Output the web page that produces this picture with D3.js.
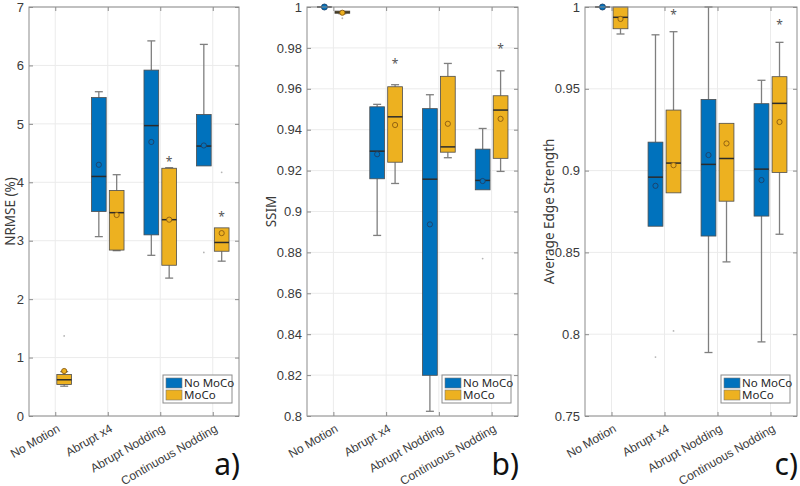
<!DOCTYPE html>
<html>
<head>
<meta charset="utf-8">
<script src="https://cdn.jsdelivr.net/npm/d3@7"></script>
<style>
	body	{ margin:0; background:#fff; }
	svg	{ display:block; font-family:"Noto Sans", "Open Sans", sans-serif; }
</style>
</head>
<body>
<svg id="chart" width="800" height="486"></svg>
<script>
// box stats: [whiskerLow, q1, median, q3, whiskerHigh, mean]
var categories	= ['No Motion', 'Abrupt x4', 'Abrupt Nodding', 'Continuous Nodding'];
var seriesNames	= ['No MoCo', 'MoCo'];
var seriesColors	= ['#0072bd', '#edb120'];

var nrmseNoMoCo	= [null, [3.07,3.50,4.10,5.45,5.55,4.30], [2.75,3.10,4.97,5.92,6.42,4.69], [4.28,4.28,4.62,5.16,6.36,4.63]];
var nrmseMoCo	= [[0.51,0.54,0.62,0.71,0.76,0.77], [2.83,2.84,3.48,3.86,4.13,3.44], [2.36,2.58,3.36,4.24,4.25,3.36], [2.65,2.82,2.97,3.22,3.22,3.13]];
var nrmseOutliers	= [[0,1,1.37], [3,0,2.80], [3,1,4.17]];	// [category, series, value]
var nrmseStars	= [[2,1,4.36], [3,1,3.43]];
var nrmseTicks	= [0,1,2,3,4,5,6,7];

var ssimNoMoCo	= [[1,1,1,1,1,1], [0.8883,0.916,0.9295,0.9512,0.9524,0.928], [0.8023,0.8199,0.9158,0.9503,0.9571,0.8937], [0.9106,0.9106,0.9152,0.9305,0.9406,0.9149]];
var ssimMoCo	= [[0.9967,0.9969,0.9975,0.998,0.998,0.9972], [0.9137,0.9241,0.9463,0.961,0.962,0.9423], [0.9263,0.929,0.9316,0.9661,0.9724,0.9429], [0.9196,0.926,0.9496,0.9566,0.9688,0.9453]];
var ssimOutliers	= [[0,1,0.9945], [3,0,0.877]];
var ssimStars	= [[1,1,0.9727], [3,1,0.9798]];
var ssimTicks	= [0.8,0.82,0.84,0.86,0.88,0.9,0.92,0.94,0.96,0.98,1];

var edgeNoMoCo	= [[1,1,1,1,1,1], [0.866,0.866,0.896,0.9174,0.983,0.8907], [0.7888,0.86,0.9038,0.9435,1.0,0.9095], [0.7953,0.8722,0.9009,0.9409,0.9552,0.8942]];
var edgeMoCo	= [[0.9835,0.9867,0.9937,1.0,1.0,0.9927], [0.8864,0.8864,0.9046,0.937,0.9849,0.9033], [0.8442,0.8813,0.9074,0.9289,0.9289,0.9166], [0.8611,0.8989,0.9411,0.9574,0.9784,0.9297]];
var edgeOutliers	= [[1,0,0.786], [1,1,0.802]];
var edgeStars	= [[1,1,0.996], [3,1,0.9894]];
var edgeTicks	= [0.75,0.8,0.85,0.9,0.95,1];

var svg = d3.select('#chart');
var decFmt = function(d){ return d==1 ? '1' : d3.format('.2f')(d).replace(/0$/,''); };

function panel(opt) {
	var g = svg.append('g');
	var x = d3.scaleLinear().domain([0.5, 4.5]).range([opt.left, opt.right]);
	var y = d3.scaleLinear().domain(opt.domain).range([opt.bottom, opt.top]);
	var off = 0.17, hw = 0.14;

	// grid
	g.append('g').selectAll('line').data(opt.ticks).enter().append('line')
		.attr('x1', opt.left).attr('x2', opt.right)
		.attr('y1', function(d){return y(d)}).attr('y2', function(d){return y(d)})
		.attr('stroke', '#ebebeb');
	g.append('g').selectAll('line').data(categories).enter().append('line')
		.attr('x1', function(d,i){return x(i+1)}).attr('x2', function(d,i){return x(i+1)})
		.attr('y1', opt.top).attr('y2', opt.bottom)
		.attr('stroke', '#ebebeb');

	// axes
	var yl = g.append('g').attr('transform', 'translate('+opt.left+',0)')
		.call(d3.axisLeft(y).tickValues(opt.ticks).tickFormat(opt.fmt).tickSizeInner(-4).tickSizeOuter(0).tickPadding(5));
	yl.select('.domain').remove();
	yl.selectAll('.tick line').attr('stroke', '#8c8c8c');
	yl.selectAll('.tick text').attr('fill', '#3a3a3a').style('font-size', '13px');
	var yr = g.append('g').attr('transform', 'translate('+opt.right+',0)')
		.call(d3.axisRight(y).tickValues(opt.ticks).tickFormat('').tickSizeInner(-4).tickSizeOuter(0));
	yr.select('.domain').remove();
	yr.selectAll('.tick line').attr('stroke', '#8c8c8c');
	var xb = g.append('g').attr('transform', 'translate(0,'+opt.bottom+')')
		.call(d3.axisBottom(x).tickValues([1,2,3,4]).tickFormat(function(d){return categories[d-1]}).tickSizeInner(-4).tickSizeOuter(0));
	xb.select('.domain').remove();
	xb.selectAll('.tick line').attr('stroke', '#8c8c8c');
	xb.selectAll('.tick text').attr('fill', '#3a3a3a').style('font-size', '12px')
		.attr('text-anchor', 'end').attr('x', 0).attr('y', 0).attr('dy', 0)
		.attr('transform', 'translate(5,15) rotate(-30)');
	var xt = g.append('g').attr('transform', 'translate(0,'+opt.top+')')
		.call(d3.axisTop(x).tickValues([1,2,3,4]).tickFormat('').tickSizeInner(-4).tickSizeOuter(0));
	xt.select('.domain').remove();
	xt.selectAll('.tick line').attr('stroke', '#8c8c8c');

	// boxes
	[opt.noMoCo, opt.moCo].forEach(function(series, s) {
		var dx = s == 0 ? -off : off;
		var bg = g.append('g').attr('class', 'series-'+s);
		series.forEach(function(b, i) {
			if (!b) return;
			var cx = i + 1 + dx, cap = 4;
			var w = bg.append('g');
			if (b[4] > b[3]) {
				w.append('line').attr('x1', x(cx)).attr('x2', x(cx)).attr('y1', y(b[4])).attr('y2', y(b[3])).attr('stroke', '#7f7f7f').attr('stroke-width', 1.3);
				w.append('line').attr('x1', x(cx)-cap).attr('x2', x(cx)+cap).attr('y1', y(b[4])).attr('y2', y(b[4])).attr('stroke', '#7f7f7f').attr('stroke-width', 1.3);
			}
			if (b[0] < b[1]) {
				w.append('line').attr('x1', x(cx)).attr('x2', x(cx)).attr('y1', y(b[1])).attr('y2', y(b[0])).attr('stroke', '#7f7f7f').attr('stroke-width', 1.3);
				w.append('line').attr('x1', x(cx)-cap).attr('x2', x(cx)+cap).attr('y1', y(b[0])).attr('y2', y(b[0])).attr('stroke', '#7f7f7f').attr('stroke-width', 1.3);
			}
			w.append('rect')
				.attr('x', x(cx-hw)).attr('width', x(cx+hw)-x(cx-hw))
				.attr('y', y(b[3])).attr('height', Math.max(0, y(b[1])-y(b[3])))
				.attr('fill', seriesColors[s]).attr('stroke', '#4d4d4d').attr('stroke-width', 0.8);
			w.append('line').attr('x1', x(cx-hw)).attr('x2', x(cx+hw)).attr('y1', y(b[2])).attr('y2', y(b[2]))
				.attr('stroke', '#2b2b2b').attr('stroke-width', 1.5);
			w.append('circle').attr('cx', x(cx)).attr('cy', y(b[5])).attr('r', b[1]==b[3] ? 3 : 2.6)
				.attr('fill', seriesColors[s]).attr('stroke', s==0 ? '#1d3f66' : '#8a5a10').attr('stroke-width', 0.9);
		});
	});

	// outliers and stars
	g.append('g').selectAll('circle').data(opt.outliers).enter().append('circle')
		.attr('cx', function(d){return x(d[0]+1+(d[1]==0?-off:off))}).attr('cy', function(d){return y(d[2])})
		.attr('r', 0.9).attr('fill', '#b5b5b5');
	g.append('g').selectAll('text').data(opt.stars).enter().append('text')
		.attr('x', function(d){return x(d[0]+1+(d[1]==0?-off:off))}).attr('y', function(d){return y(d[2])+5})
		.attr('text-anchor', 'middle').attr('fill', '#555').style('font-size', '12px').text('*');

	// frame
	g.append('rect').attr('x', opt.left).attr('y', opt.top)
		.attr('width', opt.right-opt.left).attr('height', opt.bottom-opt.top)
		.attr('fill', 'none').attr('stroke', '#8c8c8c');

	// y label
	g.append('text').attr('transform', 'translate('+opt.labelX+','+((opt.top+opt.bottom)/2)+') rotate(-90)')
		.attr('text-anchor', 'middle').attr('fill', '#3a3a3a').style('font-size', '13.5px').text(opt.label);

	// legend
	var lg = g.append('g').attr('transform', 'translate('+(opt.right-76)+','+(opt.bottom-41)+')');
	lg.append('rect').attr('width', 69).attr('height', 28).attr('fill', '#fff').attr('stroke', '#8c8c8c');
	seriesNames.forEach(function(n, i) {
		lg.append('rect').attr('x', 3).attr('y', 3+i*12).attr('width', 16).attr('height', 10)
			.attr('fill', seriesColors[i]).attr('stroke', '#777').attr('stroke-width', 0.6);
		lg.append('text').attr('x', 21).attr('y', 12+i*12).attr('fill', '#262626').style('font-size', '11.5px').text(n);
	});

	// panel letter
	svg.append('text').attr('x', opt.right+1).attr('y', 475).attr('text-anchor', 'end')
		.attr('fill', '#111').style('font-size', '30px').text(opt.letter);
}

panel({ left:29, right:239, top:7, bottom:416, domain:[0,7], ticks:nrmseTicks, fmt:d3.format('d'),
	noMoCo:nrmseNoMoCo, moCo:nrmseMoCo, outliers:nrmseOutliers, stars:nrmseStars, label:'NRMSE (%)', labelX:15, letter:'a)' });
panel({ left:307, right:518, top:7, bottom:416, domain:[0.8,1], ticks:ssimTicks, fmt:decFmt,
	noMoCo:ssimNoMoCo, moCo:ssimMoCo, outliers:ssimOutliers, stars:ssimStars, label:'SSIM', labelX:276, letter:'b)' });
panel({ left:585, right:797, top:7, bottom:416, domain:[0.75,1], ticks:edgeTicks, fmt:decFmt,
	noMoCo:edgeNoMoCo, moCo:edgeMoCo, outliers:edgeOutliers, stars:edgeStars, label:'Average Edge Strength', labelX:554, letter:'c)' });
</script>
</body>
</html>
